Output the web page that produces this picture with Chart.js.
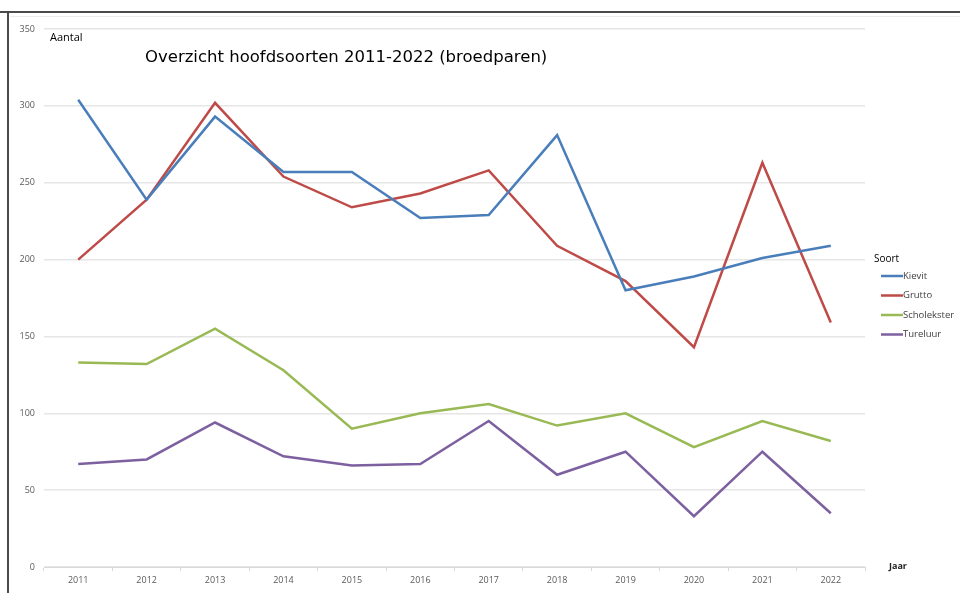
<!DOCTYPE html>
<html>
<head>
<meta charset="utf-8">
<script src="https://cdn.jsdelivr.net/npm/chart.js@4/dist/chart.umd.min.js"></script>
<style>
  html, body { margin: 0; padding: 0; background: #fff; }
  #wrap { position: relative; width: 960px; height: 593px; }
</style>
</head>
<body>
<div id="wrap"><canvas id="c" width="960" height="593"></canvas></div>
<script>
// data
const jaren       = ['2011','2012','2013','2014','2015','2016','2017','2018','2019','2020','2021','2022'];
const kievit      = [304, 239, 293, 257, 257, 227, 229, 281, 180, 189, 201, 209];
const grutto      = [200, 239, 302, 254, 234, 243, 258, 209, 186, 143, 263, 159];
const scholekster = [133, 132, 155, 128,  90, 100, 106,  92, 100,  78,  95,  82];
const tureluur    = [ 67,  70,  94,  72,  66,  67,  95,  60,  75,  33,  75,  35];
const yTicks      = [0, 50, 100, 150, 200, 250, 300, 350];

const FONT = '"Open Sans", "Liberation Sans", sans-serif';
const TICK_COLOR = '#5a5a5a';

// frame, titles and the hand-placed legend
const decor = {
  id: 'decor',
  beforeDraw(chart) {
    const ctx = chart.ctx;
    ctx.save();
    ctx.fillStyle = '#fff';
    ctx.fillRect(0, 0, chart.width, chart.height);
    // outer frame (top + left)
    ctx.strokeStyle = '#4a4a4a';
    ctx.lineWidth = 2;
    ctx.beginPath();
    ctx.moveTo(0, 12); ctx.lineTo(960, 12);
    ctx.moveTo(8, 12); ctx.lineTo(8, 593);
    ctx.stroke();
    ctx.strokeStyle = '#ececec';
    ctx.lineWidth = 1;
    ctx.beginPath();
    ctx.moveTo(10, 16.5); ctx.lineTo(960, 16.5);
    ctx.stroke();
    ctx.restore();
  },
  afterDraw(chart) {
    const ctx = chart.ctx;
    ctx.save();
    ctx.fillStyle = '#000';
    ctx.textBaseline = 'middle';
    ctx.font = '16.5px "DejaVu Sans", sans-serif';
    ctx.fillText('Overzicht hoofdsoorten 2011-2022 (broedparen)', 145, 58);
    ctx.font = '11px ' + FONT;
    ctx.fillText('Aantal', 50, 38);
    ctx.font = 'bold 9px ' + FONT;
    ctx.fillStyle = '#222';
    ctx.fillText('Jaar', 889, 566);

    // legend
    ctx.font = '10px ' + FONT;
    ctx.fillStyle = '#000';
    ctx.fillText('Soort', 874, 259);
    chart.data.datasets.forEach((ds, i) => {
      const y = 276 + i * 19.5;
      ctx.strokeStyle = ds.borderColor;
      ctx.lineWidth = 2.5;
      ctx.beginPath();
      ctx.moveTo(881, y); ctx.lineTo(903, y);
      ctx.stroke();
      ctx.fillStyle = '#404040';
      ctx.font = '9.5px ' + FONT;
      ctx.fillText(ds.label, 903, y);
    });
    ctx.restore();
  }
};

const mk = (label, data, color) => ({
  label, data,
  borderColor: color, backgroundColor: color,
  borderWidth: 2.5, pointRadius: 0, tension: 0, fill: false,
});

new Chart(document.getElementById('c'), {
  type: 'line',
  data: {
    labels: jaren,
    datasets: [
      mk('Kievit', kievit, '#4a7ebb'),
      mk('Grutto', grutto, '#be4b48'),
      mk('Scholekster', scholekster, '#98b954'),
      mk('Tureluur', tureluur, '#7d60a0'),
    ],
  },
  options: {
    responsive: false,
    animation: false,
    layout: { padding: { left: 0, top: 29, right: 95, bottom: 0 } },
    plugins: { legend: { display: false }, tooltip: { enabled: false } },
    scales: {
      x: {
        offset: true,
        grid: { offset: true, drawOnChartArea: false, color: '#d9d9d9', tickLength: 4 },
        border: { color: '#d9d9d9' },
        ticks: { color: TICK_COLOR, font: { family: FONT, size: 9 }, padding: 4, maxRotation: 0 },
        afterFit: s => { s.height = 26; },
      },
      y: {
        min: 0, max: 350,
        afterBuildTicks: s => { s.ticks = yTicks.map(v => ({ value: v })); },
        grid: { color: '#e6e6e6', lineWidth: 1.5, drawTicks: false },
        border: { display: false },
        ticks: { color: TICK_COLOR, font: { family: FONT, size: 9 }, padding: 9 },
        afterFit: s => { s.width = 44; },
      },
    },
  },
  plugins: [decor],
});
</script>
</body>
</html>
